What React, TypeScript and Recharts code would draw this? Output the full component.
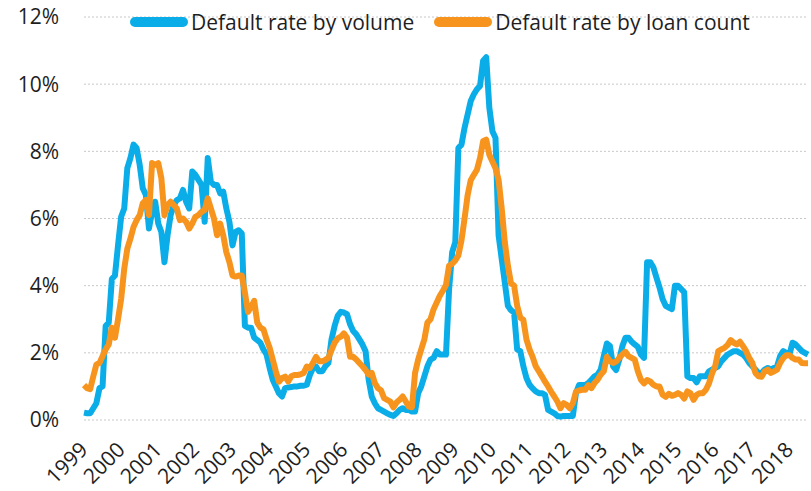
import { CartesianGrid, Legend, Line, LineChart, XAxis, YAxis } from "recharts";

document.body.style.margin = "0";

const FONT = '"Open Sans", "DejaVu Sans", sans-serif';
const TEXT = "#1e1e1e";
const BLUE = "#0BADE8";
const ORANGE = "#F7941D";

const FIRST_YEAR = 1999;
const YEARS = [1999, 2000, 2001, 2002, 2003, 2004, 2005, 2006, 2007, 2008, 2009, 2010, 2011, 2012, 2013, 2014, 2015, 2016, 2017, 2018];
const Y_TICKS = [0, 2, 4, 6, 8, 10, 12];
const SERIES_ORDER = ["volume", "count"];

// monthly, Jan 1999 - Jul 2018, in %
const volume = [
  0.22, 0.2, 0.2, 0.35, 0.5, 0.95, 1.0, 2.8, 2.9, 4.2, 4.3, 5.2,
  6.05, 6.3, 7.5, 7.8, 8.2, 8.1, 7.6, 6.9, 6.7, 5.7, 6.2, 6.5,
  5.85, 5.6, 4.7, 5.5, 6.1, 6.4, 6.55, 6.6, 6.85, 6.5, 6.3, 7.4,
  7.3, 7.15, 7.0, 5.9, 7.8, 7.1, 7.0, 7.0, 6.75, 6.8, 6.3, 5.9,
  5.2, 5.6, 5.65, 5.55, 2.8, 2.75, 2.75, 2.45, 2.38, 2.3, 2.1, 1.95,
  1.55, 1.2, 1.0, 0.8, 0.7, 0.95, 0.97, 0.98, 1.0, 1.0, 1.02, 1.02,
  1.05, 1.34, 1.55, 1.59, 1.45, 1.45, 1.6, 1.7, 2.4, 2.8, 3.1, 3.22,
  3.2, 3.15, 2.85, 2.65, 2.55, 2.4, 2.25, 2.05, 1.2, 0.7, 0.5, 0.35,
  0.3, 0.25, 0.2, 0.15, 0.12, 0.2, 0.3, 0.35, 0.3, 0.3, 0.25, 0.25,
  0.8, 1.0, 1.3, 1.6, 1.8, 1.85, 2.05, 1.95, 1.95, 1.95, 3.9, 5.0,
  5.3, 8.1, 8.2, 8.7, 9.1, 9.5, 9.7, 9.85, 9.95, 10.7, 10.8, 9.3,
  8.6, 8.4, 5.5, 4.8, 4.1, 3.4, 3.27, 3.2, 2.1, 2.05, 1.6, 1.25,
  1.05, 0.94, 0.85, 0.8, 0.8, 0.75, 0.3, 0.25, 0.2, 0.12, 0.1, 0.12,
  0.12, 0.12, 0.12, 0.8, 1.04, 1.04, 1.04, 1.1, 1.2, 1.3, 1.35, 1.5,
  1.9, 2.28, 2.2, 1.6, 1.49, 1.8, 2.2, 2.45, 2.45, 2.33, 2.25, 2.18,
  1.95, 1.85, 4.7, 4.7, 4.55, 4.25, 3.95, 3.6, 3.4, 3.35, 3.3, 4.0,
  4.0, 3.9, 3.8, 1.3, 1.25, 1.25, 1.12, 1.3, 1.3, 1.3, 1.45, 1.5,
  1.55, 1.6, 1.75, 1.85, 1.95, 2.0, 2.05, 2.05, 2.0, 1.95, 1.85, 1.7,
  1.6, 1.5, 1.4, 1.4, 1.5, 1.55, 1.5, 1.55, 1.6, 1.9, 2.05, 2.0,
  1.95, 2.3, 2.25, 2.15, 2.05, 2.0, 1.95,
];

const loanCount = [
  1.04, 0.95, 0.92, 1.3, 1.65, 1.7, 1.9, 2.1, 2.25, 2.75, 2.45, 3.0,
  3.6, 4.5, 5.1, 5.4, 5.75, 5.95, 6.1, 6.45, 6.55, 6.1, 7.65, 7.6,
  7.65, 7.2, 6.1, 6.4, 6.5, 6.4, 6.3, 5.95, 6.0, 5.9, 5.7, 5.85,
  6.05, 6.1, 6.2, 6.25, 6.6, 6.3, 6.0, 5.5, 5.85, 5.5, 5.0, 4.7,
  4.3, 4.27, 4.3, 4.3, 3.8, 3.22, 3.37, 3.55, 2.9, 2.75, 2.7, 2.4,
  2.15, 1.8, 1.45, 1.14, 1.25, 1.29, 1.15, 1.3, 1.34, 1.34, 1.36, 1.4,
  1.59, 1.55, 1.7, 1.88, 1.75, 1.75, 1.79, 1.85, 2.08, 2.3, 2.43, 2.48,
  2.58, 2.45, 1.88, 1.88, 1.8, 1.7, 1.6, 1.49, 1.35, 1.4, 1.1, 0.95,
  0.88, 0.65, 0.6, 0.55, 0.38, 0.52, 0.6, 0.7, 0.55, 0.4, 0.38, 1.4,
  1.8, 2.1, 2.4, 2.9, 3.0, 3.3, 3.5, 3.7, 3.85, 4.02, 4.6, 4.65,
  4.75, 4.9, 5.35, 6.0, 6.7, 7.14, 7.3, 7.45, 7.8, 8.3, 8.35, 7.9,
  7.7, 7.5, 7.15, 6.3, 5.3, 4.6, 4.07, 4.0, 3.4, 3.05, 2.98, 2.4,
  2.1, 1.88, 1.6, 1.45, 1.3, 1.14, 1.0, 0.84, 0.7, 0.55, 0.35, 0.5,
  0.45, 0.35, 0.5, 0.84, 0.88, 0.9, 0.9, 1.04, 0.95, 1.1, 1.2, 1.35,
  1.45, 1.88, 1.75, 1.7, 1.74, 1.85, 1.95, 2.03, 1.9, 1.85, 1.8, 1.45,
  1.2, 1.09, 1.19, 1.15, 1.05, 1.0, 1.0, 0.75, 0.69, 0.78, 0.72, 0.75,
  0.8, 0.75, 0.64, 0.85, 0.8, 0.6, 0.75, 0.8, 0.8, 0.9, 1.09, 1.39,
  1.6, 2.05, 2.1, 2.15, 2.23, 2.38, 2.3, 2.25, 2.33, 2.2, 2.05, 1.85,
  1.7, 1.4, 1.3, 1.29, 1.45, 1.5, 1.4, 1.45, 1.5, 1.7, 1.84, 1.93,
  1.93, 1.85, 1.8, 1.8, 1.7, 1.69, 1.69,
];

const data = volume.map((v, i) => ({
  t: FIRST_YEAR + i / 12,
  volume: v,
  count: loanCount[i],
}));

function YearTick({ x, y, payload }: any) {
  const px = x + 5;
  const py = y + 23;
  return (
    <text
      x={px}
      y={py}
      transform={`rotate(-45 ${px} ${py})`}
      textAnchor="end"
      fontFamily={FONT}
      fontSize={21}
      fill={TEXT}
    >
      {payload.value}
    </text>
  );
}

function LegendContent({ payload }: any) {
  const items = [...(payload || [])].sort(
    (a: any, b: any) => SERIES_ORDER.indexOf(a.dataKey) - SERIES_ORDER.indexOf(b.dataKey)
  );
  return (
    <div style={{ display: "flex", alignItems: "center", fontFamily: FONT, fontSize: 21, color: TEXT, whiteSpace: "nowrap" }}>
      {items.map((p: any, i: number) => (
        <div key={p.value} style={{ display: "flex", alignItems: "center", marginLeft: i ? 20 : 0 }}>
          <svg width={58} height={12}>
            <line x1={5} y1={6} x2={53} y2={6} stroke={p.color} strokeWidth={10} strokeLinecap="round" />
          </svg>
          <span style={{ marginLeft: 3 }}>{p.value}</span>
        </div>
      ))}
    </div>
  );
}

export default function App() {
  return (
    <LineChart width={811} height={491} data={data} margin={{ top: 17, right: 3, left: 0, bottom: 0 }}>
      <CartesianGrid vertical={false} stroke="#c8c8c8" strokeDasharray="2 2" />
      <XAxis
        dataKey="t"
        type="number"
        domain={[1999, 2018.5]}
        ticks={YEARS}
        interval={0}
        axisLine={false}
        tickLine={false}
        height={71}
        tick={<YearTick />}
      />
      <YAxis
        domain={[0, 12]}
        ticks={Y_TICKS}
        interval={0}
        axisLine={false}
        tickLine={false}
        width={84}
        tickMargin={19}
        tickFormatter={(v: number) => `${v}%`}
        tick={{ fontFamily: FONT, fontSize: 21, fill: TEXT }}
      />
      <Legend
        verticalAlign="middle"
        align="center"
        layout="horizontal"
        wrapperStyle={{ top: 8, left: 130, width: "auto" }}
        content={<LegendContent />}
      />
      <Line
        type="linear"
        dataKey="volume"
        name="Default rate by volume"
        stroke={BLUE}
        strokeWidth={6}
        strokeLinejoin="round"
        dot={false}
        isAnimationActive={false}
      />
      <Line
        type="linear"
        dataKey="count"
        name="Default rate by loan count"
        stroke={ORANGE}
        strokeWidth={6}
        strokeLinejoin="round"
        dot={false}
        isAnimationActive={false}
      />
    </LineChart>
  );
}
